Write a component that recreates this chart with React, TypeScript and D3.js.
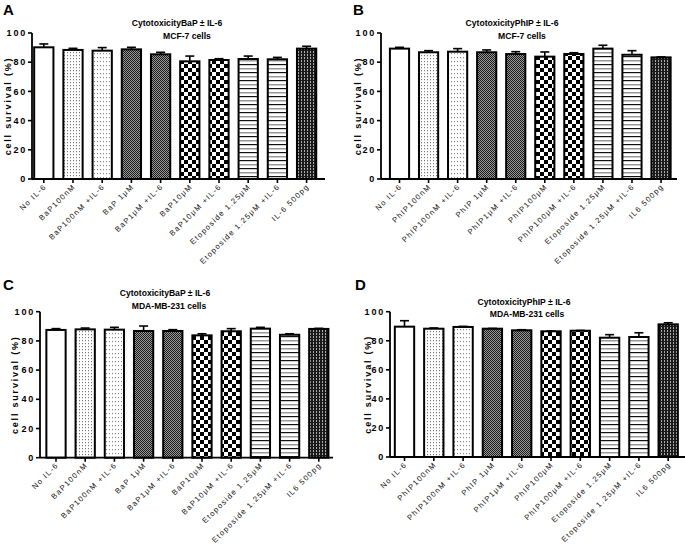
import React from 'react';
import * as d3 from 'd3';

// ---------- data ----------
const labelsA = ['No IL-6', 'BaP100nM', 'BaP100nM +IL-6', 'BaP 1\u03bcM', 'BaP1\u03bcM +IL-6', 'BaP10\u03bcM', 'BaP10\u03bcM +IL-6', 'Etoposide 1.25\u03bcM', 'Etoposide 1.25\u03bcM +IL-6', 'IL-6 500pg'];
const labelsB = ['No IL-6', 'PhIP100nM', 'PhIP100nM +IL-6', 'PhIP 1\u03bcM', 'PhIP1\u03bcM +IL-6', 'PhIP100\u03bcM', 'PhIP100\u03bcM +IL-6', 'Etoposide 1.25\u03bcM', 'Etoposide 1.25\u03bcM +IL-6', 'IL6 500pg'];
const labelsC = ['No IL-6', 'BaP100nM', 'BaP100nM +IL-6', 'BaP 1\u03bcM', 'BaP1\u03bcM +IL-6', 'BaP10\u03bcM', 'BaP10\u03bcM +IL-6', 'Etoposide 1.25\u03bcM', 'Etoposide 1.25\u03bcM +IL-6', 'IL6 500pg'];
const labelsD = ['No IL-6', 'PhIP100nM', 'PhIP100nM +IL-6', 'PhIP 1\u03bcM', 'PhIP1\u03bcM +IL-6', 'PhIP100\u03bcM', 'PhIP100\u03bcM +IL-6', 'Etoposide 1.25\u03bcM', 'Etoposide 1.25\u03bcM +IL-6', 'IL6 500pg'];

const valuesA = [90.2, 88.4, 87.9, 88.8, 85.4, 80.6, 81.5, 82.2, 82.0, 89.3];
const semA = [2.3, 1.1, 2.1, 1.4, 1.4, 3.6, 0.9, 2.0, 1.3, 1.6];
const valuesB = [89.3, 86.8, 87.2, 86.8, 85.6, 83.8, 85.6, 89.3, 85.1, 83.3];
const semB = [0.9, 1.1, 2.1, 1.6, 1.6, 3.2, 0.9, 2.3, 2.8, 0.3];
const valuesC = [87.5, 87.9, 87.7, 86.8, 86.8, 83.8, 86.6, 88.4, 84.2, 88.2];
const semC = [0.9, 0.9, 1.6, 3.4, 0.9, 1.1, 1.8, 0.9, 0.7, 0.4];
const valuesD = [89.7, 88.3, 89.5, 88.3, 87.2, 86.5, 86.9, 82.1, 82.6, 91.3];
const semD = [4.1, 0.5, 0.4, 0.2, 0.4, 0.2, 0.2, 2.1, 2.9, 1.1];

const yTicks = [0, 20, 40, 60, 80, 100];

const titlesLine1 = ['CytotoxicityBaP \u00b1 IL-6', 'CytotoxicityPhIP \u00b1 IL-6', 'CytotoxicityBaP \u00b1 IL-6', 'CytotoxicityPhIP \u00b1 IL-6'];
const titlesLine2 = ['MCF-7 cells', 'MCF-7 cells', 'MDA-MB-231 cells', 'MDA-MB-231 cells'];
const panelLetters = ['A', 'B', 'C', 'D'];
const yLabel = 'cell survival (%)';

// ---------- layout ----------
const layouts = [
  { axisX: 32, yTop: 33, yBase: 179, first: 43.8, step: 29.2, axisEnd: 325, ylabX: 9, tX: 177, tY: 26, sX: 187, sY: 39, lX: 3, lY: 15 },
  { axisX: 381, yTop: 33, yBase: 179, first: 399.5, step: 29.06, axisEnd: 677, ylabX: 359, tX: 512, tY: 26, sX: 522, sY: 39, lX: 353, lY: 15 },
  { axisX: 40, yTop: 311.7, yBase: 457.7, first: 56, step: 29.2, axisEnd: 333, ylabX: 16, tX: 165, tY: 296, sX: 169, sY: 309, lX: 3, lY: 290 },
  { axisX: 390, yTop: 311.7, yBase: 457, first: 404.5, step: 29.3, axisEnd: 685, ylabX: 369, tX: 524, tY: 305, sX: 527, sY: 317, lX: 355, lY: 290 },
];

const fills = ['#fff', 'url(#pDots1)', 'url(#pDots2)', 'url(#pDense)', 'url(#pDense)', 'url(#pCheck)', 'url(#pCheck)', 'url(#pLines)', 'url(#pLines)', 'url(#pDark)'];

const FONT = 'Liberation Sans, Arial, Helvetica, sans-serif';

function Panel({ idx, labels, values, sems }: { idx: number; labels: string[]; values: number[]; sems: number[] }) {
  const L = layouts[idx];
  const n = labels.length;
  const r0 = L.first - L.step / 2;
  const x = d3.scaleBand<string>()
    .domain(d3.range(n).map(String))
    .range([r0, r0 + n * L.step])
    .paddingInner(0.34)
    .paddingOuter(0.17);
  const y = d3.scaleLinear().domain([0, 100]).range([L.yBase, L.yTop]);
  const bw = x.bandwidth();
  return (
    <g>
      <text x={L.lX} y={L.lY} fontFamily={FONT} fontWeight="bold" fontSize={15}>{panelLetters[idx]}</text>
      <text x={L.tX} y={L.tY} textAnchor="middle" fontFamily={FONT} fontWeight="bold" fontSize={8.6}>{titlesLine1[idx]}</text>
      <text x={L.sX} y={L.sY} textAnchor="middle" fontFamily={FONT} fontWeight="bold" fontSize={8.6}>{titlesLine2[idx]}</text>
      <text transform={`translate(${L.ylabX},${(L.yTop + L.yBase) / 2}) rotate(-90)`} textAnchor="middle" dominantBaseline="middle"
        fontFamily={FONT} fontWeight="bold" fontSize={9} letterSpacing={1.8}>{yLabel}</text>
      {/* y axis */}
      <line x1={L.axisX} x2={L.axisX} y1={L.yTop} y2={L.yBase} stroke="#000" strokeWidth={1.8} />
      {yTicks.map(t => (
        <g key={t}>
          <line x1={L.axisX - 4} x2={L.axisX} y1={y(t)} y2={y(t)} stroke="#000" strokeWidth={1.6} />
          <text x={L.axisX - 5} y={y(t)} dy="0.35em" textAnchor="end" fontFamily={FONT} fontWeight="bold" fontSize={9} letterSpacing={1.8}>{t}</text>
        </g>
      ))}
      {/* bars */}
      {values.map((v, i) => {
        const xi = x(String(i))!;
        return (
          <rect key={i} x={xi} y={y(v)} width={bw} height={L.yBase - y(v)} fill={fills[i]} stroke="#000" strokeWidth={2} />
        );
      })}
      {/* error bars */}
      {values.map((v, i) => {
        const cx = x(String(i))! + bw / 2;
        const yt = y(v + sems[i]);
        return (
          <g key={i} stroke="#000" strokeWidth={1.6}>
            <line x1={cx} x2={cx} y1={y(v)} y2={yt} />
            <line x1={cx - 4.5} x2={cx + 4.5} y1={yt} y2={yt} />
          </g>
        );
      })}
      {/* x axis */}
      <line x1={L.axisX} x2={L.axisEnd} y1={L.yBase} y2={L.yBase} stroke="#000" strokeWidth={1.8} />
      {labels.map((lab, i) => {
        const cx = x(String(i))! + bw / 2;
        return (
          <g key={i}>
            <line x1={cx} x2={cx} y1={L.yBase} y2={L.yBase + 4} stroke="#000" strokeWidth={1.6} />
            <text transform={`translate(${cx + 3},${L.yBase + 8}) rotate(-45)`} textAnchor="end" fontFamily={FONT} fontSize={7.6}
              letterSpacing={1.3} fill="#111">{lab}</text>
          </g>
        );
      })}
    </g>
  );
}

export default function App() {
  return (
    <svg width={685} height={553} style={{ position: 'absolute', left: 0, top: 0, background: '#fff' }}>
      <defs>
        <pattern id="pDots1" width={3} height={3} patternUnits="userSpaceOnUse">
          <rect width={3} height={3} fill="#fff" />
          <rect x={1} y={1} width={1} height={1.2} fill="#777" />
        </pattern>
        <pattern id="pDots2" width={3} height={4} patternUnits="userSpaceOnUse">
          <rect width={3} height={4} fill="#fff" />
          <rect x={1} y={1} width={1} height={1.2} fill="#888" />
        </pattern>
        <pattern id="pDense" width={2} height={2} patternUnits="userSpaceOnUse">
          <rect width={2} height={2} fill="#999" />
          <rect x={0} y={0} width={1} height={1} fill="#1a1a1a" />
          <rect x={1} y={1} width={1} height={1} fill="#1a1a1a" />
        </pattern>
        <pattern id="pCheck" width={8} height={8} patternUnits="userSpaceOnUse">
          <rect width={8} height={8} fill="#fff" />
          <rect x={0} y={0} width={4} height={4} fill="#000" />
          <rect x={4} y={4} width={4} height={4} fill="#000" />
        </pattern>
        <pattern id="pLines" width={4} height={8} patternUnits="userSpaceOnUse">
          <rect width={4} height={8} fill="#fff" />
          <rect x={0} y={0} width={4} height={1.2} fill="#111" />
          <rect x={0} y={4} width={4} height={1.5} fill="#999" />
        </pattern>
        <pattern id="pDark" width={3} height={3} patternUnits="userSpaceOnUse">
          <rect width={3} height={3} fill="#1a1a1a" />
          <rect x={1} y={0} width={1} height={2} fill="#aaa" />
        </pattern>
      </defs>
      <Panel idx={0} labels={labelsA} values={valuesA} sems={semA} />
      <Panel idx={1} labels={labelsB} values={valuesB} sems={semB} />
      <Panel idx={2} labels={labelsC} values={valuesC} sems={semC} />
      <Panel idx={3} labels={labelsD} values={valuesD} sems={semD} />
    </svg>
  );
}
